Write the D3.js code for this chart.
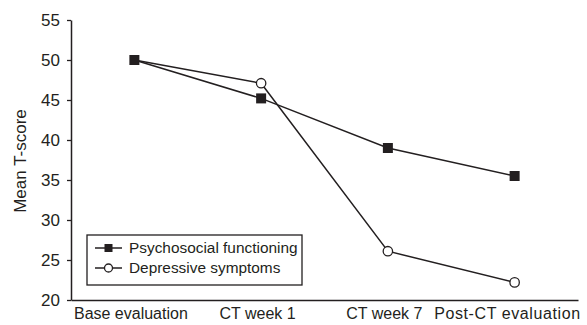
<!DOCTYPE html>
<html>
<head>
<meta charset="utf-8">
<script src="https://cdn.jsdelivr.net/npm/d3@7"></script>
<style>
  html, body { margin: 0; padding: 0; background: #fff; }
  svg text { font-family: "Liberation Sans", Arial, Helvetica, sans-serif; fill: #231f20; }
</style>
</head>
<body>
<svg id="chart" width="587" height="325"></svg>
<script>
const categories = ["Base evaluation", "CT week 1", "CT week 7", "Post-CT evaluation"];
const psychosocial = [50, 45.2, 39, 35.5];
const depressive = [50, 47.1, 26.1, 22.2];
const yTicks = [20, 25, 30, 35, 40, 45, 50, 55];
const seriesNames = ["Psychosocial functioning", "Depressive symptoms"];

const ink = "#231f20";
const svg = d3.select("#chart");
const margin = { left: 71, right: 9, top: 20, bottom: 25 };
const W = 587, H = 325;

const x = d3.scalePoint().domain(categories).range([margin.left, W - margin.right]).padding(0.5);
const y = d3.scaleLinear().domain([20, 55]).range([H - margin.bottom, margin.top]);

// Y axis
const yAxis = svg.append("g")
  .attr("transform", `translate(${margin.left},0)`)
  .call(d3.axisLeft(y).tickValues(yTicks).tickSize(4).tickPadding(7).tickSizeOuter(0));
yAxis.select(".domain").attr("stroke", ink).attr("stroke-width", 1.5);
yAxis.selectAll(".tick line").attr("stroke", ink).attr("stroke-width", 1.3);
yAxis.selectAll(".tick text").attr("font-size", 17).attr("fill", ink);

// X axis
const xAxis = svg.append("g")
  .attr("transform", `translate(0,${y(20)})`)
  .call(d3.axisBottom(x).tickSize(0).tickPadding(8).tickSizeOuter(0));
xAxis.select(".domain").attr("stroke", ink).attr("stroke-width", 1.5);
xAxis.selectAll(".tick text").attr("font-size", 16).attr("fill", ink)
  .attr("dy", "0.71em")
  .attr("dx", (d, i) => i === categories.length - 1 ? -8 : -4)
  .attr("textLength", (d, i) => i === categories.length - 1 ? 146 : null);

// Y title
svg.append("text")
  .attr("transform", `translate(26,${(y(20) + y(55)) / 2 + 1}) rotate(-90)`)
  .attr("text-anchor", "middle")
  .attr("font-size", 17)
  .text("Mean T-score");

// Lines
const line = d3.line().x((d, i) => x(categories[i])).y(d => y(d));
svg.append("path").datum(depressive).attr("d", line)
  .attr("fill", "none").attr("stroke", ink).attr("stroke-width", 1.5);
svg.append("path").datum(psychosocial).attr("d", line)
  .attr("fill", "none").attr("stroke", ink).attr("stroke-width", 1.5);

// Markers
const sq = 10;
svg.selectAll(".psq").data(psychosocial).enter().append("rect")
  .attr("x", (d, i) => x(categories[i]) - sq / 2)
  .attr("y", d => y(d) - sq / 2)
  .attr("width", sq).attr("height", sq)
  .attr("fill", ink);
svg.selectAll(".dci").data(depressive).enter()
  .filter((d, i) => i > 0)
  .append("circle")
  .attr("cx", (d, i) => x(categories[i + 1]))
  .attr("cy", d => y(d))
  .attr("r", 4.7)
  .attr("fill", "#fff").attr("stroke", ink).attr("stroke-width", 1.3);

// Legend
const lg = svg.append("g").attr("transform", "translate(87,235)");
lg.append("rect").attr("x", 0).attr("y", 0).attr("width", 215).attr("height", 50)
  .attr("fill", "#fff").attr("stroke", ink).attr("stroke-width", 1.3);
seriesNames.forEach((name, i) => {
  const cy = 13 + i * 20;
  lg.append("line").attr("x1", 8).attr("x2", 35).attr("y1", cy).attr("y2", cy)
    .attr("stroke", ink).attr("stroke-width", 1.5);
  if (i === 0) {
    lg.append("rect").attr("x", 21.5 - 4).attr("y", cy - 4).attr("width", 8).attr("height", 8).attr("fill", ink);
  } else {
    lg.append("circle").attr("cx", 21.5).attr("cy", cy).attr("r", 4).attr("fill", "#fff")
      .attr("stroke", ink).attr("stroke-width", 1.3);
  }
  lg.append("text").attr("x", 42).attr("y", cy).attr("dy", "0.35em")
    .attr("font-size", 15.4).text(name);
});
</script>
</body>
</html>
